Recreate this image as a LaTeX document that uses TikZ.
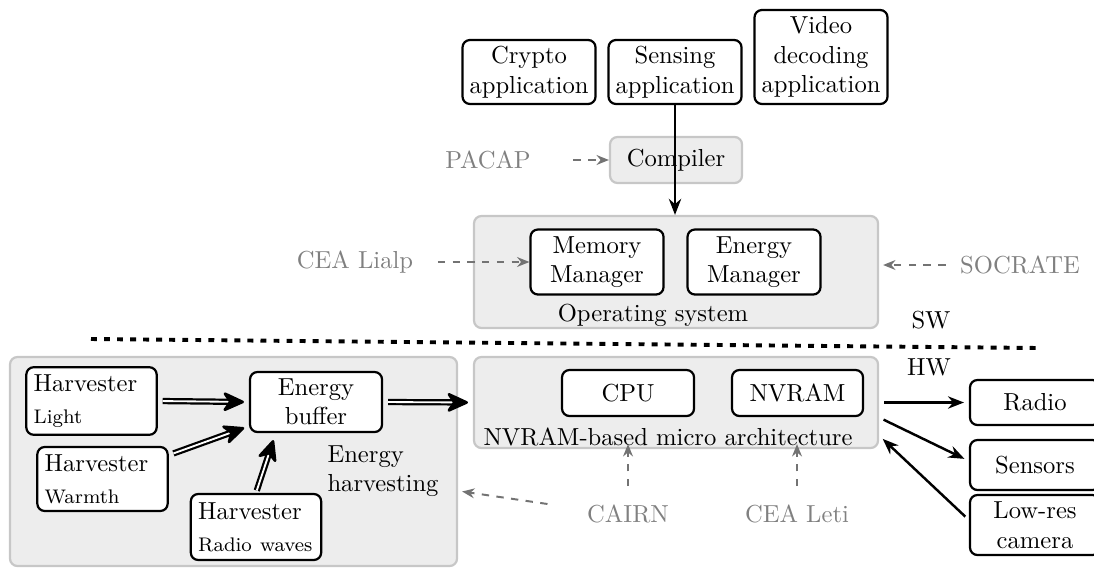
\documentclass[tikz,border=0pt]{standalone}
\usetikzlibrary{arrows.meta,calc}
\begin{document}
\begin{tikzpicture}[x=0.4065pt,y=-0.4065pt,
  box/.style={draw, rounded corners=3pt, line width=0.9pt, align=center, fill=white, inner sep=2pt},
  harv/.style={box, align=left, inner sep=3pt, text width=#1},
  area/.style={draw=black!22, fill=black!7, rounded corners=3pt, line width=0.9pt, inner sep=0pt},
  note/.style={text=black!50},
  ref/.style={draw=black!55, dashed, line width=0.8pt, -{Stealth[length=5pt,width=4pt]}},
  link/.style={line width=1pt, -{Stealth[length=6.5pt,width=5pt]}},
  flow/.style={double, double distance=0.75pt, line width=0.9pt,
    -{Stealth[length=10pt,width=9pt,inset=3pt,round,line width=1.1pt]}}]
\useasboundingbox (0,0) rectangle (1094,567);

% software side
\node[box, minimum width=133*0.4065pt, minimum height=64*0.4065pt] (crypto) at (529,72) {Crypto\\application};
\node[box, minimum width=133*0.4065pt, minimum height=64*0.4065pt] (sensing) at (675,72) {Sensing\\application};
\node[box, minimum width=133*0.4065pt, minimum height=94*0.4065pt] (video) at (821,57) {Video\\decoding\\application};

\node[area, minimum width=132*0.4065pt, minimum height=46*0.4065pt] (compiler) at (676,160) {Compiler};
\node[note] (pacap) at (488,160) {PACAP};

\node[area, minimum width=404*0.4065pt, minimum height=112*0.4065pt] (os) at (676,272) {};
\node[box, minimum width=133*0.4065pt, minimum height=65*0.4065pt] (mem) at (597,262) {Memory\\Manager};
\node[box, minimum width=133*0.4065pt, minimum height=65*0.4065pt] (emgr) at (754,262) {Energy\\Manager};
\node (oslabel) at (653,315) {Operating system};
\node[note] (lialp) at (355,262) {CEA Lialp};
\node[note] (socrate) at (1020,265) {SOCRATE};

\draw[link] (sensing.south) -- (sensing.south |- os.north);
\draw[ref] ($(pacap.east)+(34,0)$) -- (compiler.west);
\draw[ref] ($(lialp.east)+(16,0)$) -- (mem.west);
\draw[ref] ($(socrate.west)+(-6,0)$) -- ($(os.east)+(4,-7)$);

% boundary between software and hardware
\coordinate (sepL) at (91,339);
\coordinate (sepR) at (1037,348);
\draw[line width=1.6pt, dash pattern=on 2.4pt off 2.9pt] (sepL) -- (sepR);
\node (sw) at (931,320) {SW};
\node (hw) at (929,367) {HW};

% energy harvesting
\node[area, minimum width=447*0.4065pt, minimum height=209*0.4065pt] (eh) at (233.5,461.5) {};
\node[harv=47pt, minimum height=62*0.4065pt] (light) at (91.5,401) {Harvester\\[1pt]{\footnotesize Light}};
\node[harv=47pt, minimum height=62*0.4065pt] (warmth) at (102.5,479) {Harvester\\[1pt]{\footnotesize Warmth}};
\node[harv=47pt, minimum height=66*0.4065pt] (rwaves) at (256,527) {Harvester\\[1pt]{\footnotesize Radio waves}};
\node[box, minimum width=132*0.4065pt, minimum height=60*0.4065pt] (buffer) at (316,402) {Energy\\buffer};
\node[align=left] (ehlabel) at (383,471) {Energy\\harvesting};

\draw[flow, shorten <=2pt, shorten >=2pt] (light.east) -- (buffer.west);
\draw[flow, shorten <=2pt, shorten >=2pt] (warmth) -- (buffer);
\draw[flow, shorten <=1pt, shorten >=3pt] (rwaves.north) -- ($(buffer.south west)!0.2!(buffer.south east)$);

% hardware
\node[area, minimum width=404*0.4065pt, minimum height=91*0.4065pt] (micro) at (676,402.5) {};
\node[box, minimum width=132*0.4065pt, minimum height=46*0.4065pt] (cpu) at (628,393) {CPU};
\node[box, minimum width=131*0.4065pt, minimum height=46*0.4065pt] (nvram) at (797.5,393) {NVRAM};
\node (microlabel) at (668,437) {NVRAM-based micro architecture};

\draw[flow, shorten <=2pt, shorten >=2pt] (buffer.east) -- (micro.west);

\node[box, minimum width=130*0.4065pt, minimum height=45*0.4065pt] (radio) at (1035,402.5) {Radio};
\node[box, minimum width=130*0.4065pt, minimum height=50*0.4065pt] (sensors) at (1035,465) {Sensors};
\node[box, minimum width=130*0.4065pt, minimum height=60*0.4065pt] (camera) at (1035,525) {Low-res\\camera};

\draw[link, shorten <=2pt, shorten >=2pt] (micro.east) -- (radio.west);
\draw[link, shorten <=2pt, shorten >=2pt] ($(micro.east)+(0,15)$) -- ($(sensors.west)+(0,-4)$);
\draw[link, shorten <=2pt, shorten >=2pt] ($(camera.west)+(0,-5)$) -- ($(micro.east)+(0,33)$);

\node[note] (cairn) at (628,514) {CAIRN};
\node[note] (leti) at (797,514) {CEA Leti};
\draw[ref] ($(cairn.north)+(0,-10)$) -- ($(micro.south -| cairn)+(0,-5)$);
\draw[ref] ($(leti.north)+(0,-10)$) -- ($(micro.south -| leti)+(0,-5)$);
\draw[ref] ($(cairn.west)+(-31,-10)$) -- ($(eh.east)+(4,30)$);
\end{tikzpicture}
\end{document}
